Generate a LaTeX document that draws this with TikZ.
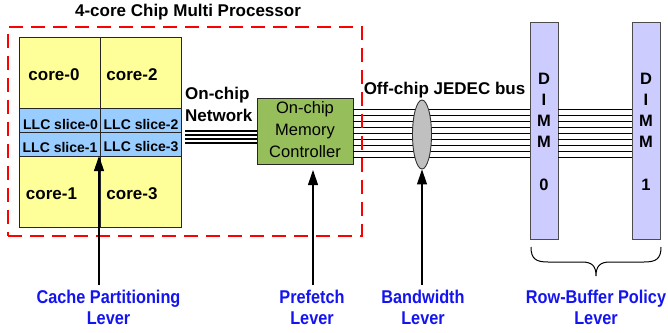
\documentclass[tikz,border=0pt]{standalone}
\usepackage{fontspec}
\setmainfont{Liberation Sans}
\usetikzlibrary{arrows.meta,shapes.geometric}
\definecolor{coreyellow}{RGB}{255,255,153}
\definecolor{llcblue}{RGB}{153,204,255}
\definecolor{mcgreen}{RGB}{150,190,90}
\definecolor{dimmviolet}{RGB}{204,204,255}
\definecolor{busgray}{RGB}{192,192,192}
\definecolor{leverblue}{RGB}{20,20,240}
\begin{document}
\begin{tikzpicture}[x=1pt,y=-1pt,
  box/.style={draw=black!85,line width=0.9pt,inner sep=0pt,outer sep=0pt},
  bt/.style={font=\fontsize{17}{22}\selectfont\bfseries,inner sep=0pt},
  llct/.style={font=\fontsize{14}{16}\selectfont\bfseries,inner sep=0pt},
  lever/.style={line width=1.1pt,-{Triangle[length=15pt,width=10pt]}},
  bluet/.style={text=leverblue,font=\fontsize{18.5}{21}\selectfont\bfseries,align=center,inner sep=0pt},
  busline/.style={line width=0.9pt},
  netline/.style={line width=2.2pt}
]
\useasboundingbox (0,0) rectangle (668,332);

% title
\node[bt] (title) at (188,12.5) {4-core Chip Multi Processor};

% chip block
\node[box,fill=coreyellow,minimum width=162pt,minimum height=190pt] (chip) at (100,132) {};
\node[box,fill=coreyellow,minimum width=81pt,minimum height=71pt] (c0) at (59.5,72.5) {};
\node[box,fill=coreyellow,minimum width=81pt,minimum height=71pt] (c2) at (140.5,72.5) {};
\node[box,fill=coreyellow,minimum width=81pt,minimum height=71pt] (c1) at (59.5,191.5) {};
\node[box,fill=coreyellow,minimum width=81pt,minimum height=71pt] (c3) at (140.5,191.5) {};
\node[box,fill=llcblue,minimum width=81pt,minimum height=24pt] (l0) at (59.5,120) {};
\node[box,fill=llcblue,minimum width=81pt,minimum height=24pt] (l2) at (140.5,120) {};
\node[box,fill=llcblue,minimum width=81pt,minimum height=24pt] (l1) at (59.5,144) {};
\node[box,fill=llcblue,minimum width=81pt,minimum height=24pt] (l3) at (140.5,144) {};

\node[bt] (t0) at (54,75) {core-0};
\node[bt] (t2) at (132,75) {core-2};
\node[bt] (t1) at (51.5,194) {core-1};
\node[bt] (t3) at (132,194) {core-3};
\node[llct] (tl0) at (60.5,124) {LLC slice-0};
\node[llct] (tl2) at (141,124) {LLC slice-2};
\node[llct] (tl1) at (60,147) {LLC slice-1};
\node[llct] (tl3) at (141,147) {LLC slice-3};

% memory controller
\node[box,fill=mcgreen,minimum width=96pt,minimum height=66pt] (mc) at (305,131) {};
\node[inner sep=0pt,align=center,font=\fontsize{16.5}{22}\selectfont] (mct) at (305,130) {On-chip\\Memory\\Controller};

% on-chip network
\node[bt,align=left,anchor=west] (net) at (185,104.5) {On-chip\\Network};
\foreach \y in {131,135,139,143}{
  \draw[netline,shorten <=4pt] (chip.east |- 0,\y) -- (mc.west |- 0,\y);
}

% DIMMs
\node[box,draw=black!70,fill=dimmviolet,minimum width=28pt,minimum height=217pt] (dimm0) at (544,130.5) {};
\node[box,draw=black!70,fill=dimmviolet,minimum width=28pt,minimum height=217pt] (dimm1) at (646,130.5) {};
\foreach \l/\y [count=\i] in {D/79,I/100,M/121,M/142,0/184.5}{
  \node[font=\fontsize{16.5}{18}\selectfont\bfseries,inner sep=0pt] (da\i) at (dimm0.center |- 0,\y) {\l};
}
\foreach \l/\y [count=\i] in {D/79,I/100,M/121,M/142,1/184.5}{
  \node[font=\fontsize{16.5}{18}\selectfont\bfseries,inner sep=0pt] (db\i) at (dimm1.center |- 0,\y) {\l};
}

% off-chip bus
\foreach \k in {0,...,8}{
  \pgfmathsetmacro{\yy}{109+6*\k}
  \draw[busline] (mc.east |- 0,\yy) -- (dimm0.west |- 0,\yy);
  \draw[busline] (dimm0.east |- 0,\yy) -- (dimm1.west |- 0,\yy);
}
\node[draw=black!80,line width=0.9pt,fill=busgray,ellipse,minimum width=19pt,minimum height=69pt,inner sep=0pt] (bw) at (422,134.5) {};
\node[bt] (jedec) at (444.5,90) {Off-chip JEDEC bus};

% CMP boundary
\node[draw=red,dash pattern=on 14pt off 8pt,line width=1.3pt,minimum width=354pt,minimum height=209pt,inner sep=0pt] (cmp) at (185,131.5) {};

% levers
\node[bluet] (cpl) at (108.5,307) {\scalebox{0.88}[1]{Cache Partitioning}\\\scalebox{0.88}[1]{Lever}};
\node[bluet] (pfl) at (312,307) {\scalebox{0.88}[1]{Prefetch}\\\scalebox{0.88}[1]{Lever}};
\node[bluet] (bwl) at (423,307) {\scalebox{0.88}[1]{Bandwidth}\\\scalebox{0.88}[1]{Lever}};
\node[bluet] (rbl) at (596,307) {\scalebox{0.88}[1]{Row-Buffer Policy}\\\scalebox{0.88}[1]{Lever}};

\coordinate (cpa) at (99,285);
\coordinate (pfa) at (313,285);
\coordinate (bwa) at (422,285);
\draw[lever] (cpa) -- (cpa |- l1.south);
\draw[lever,shorten >=6pt] (pfa) -- (pfa |- mc.south);
\draw[lever] (bwa) -- (bw.south);

% brace
\draw[line width=1pt] (531,247) .. controls (531,259) and (536,262) .. (548,262)
  -- (582,262) .. controls (592,262) and (596,266) .. (596,276)
  .. controls (596,266) and (600,262) .. (610,262)
  -- (644,262) .. controls (656,262) and (661,259) .. (661,247);
\end{tikzpicture}
\end{document}
